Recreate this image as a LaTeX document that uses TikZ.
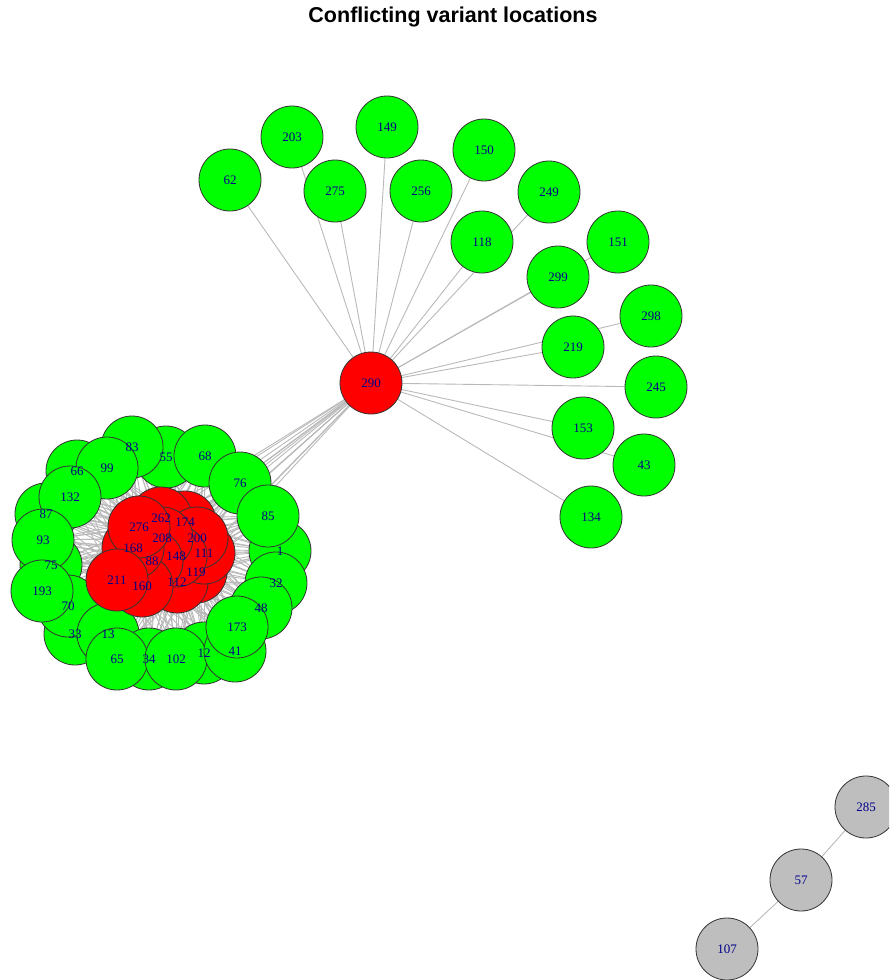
\documentclass[tikz,border=0pt]{standalone}
\usepackage{fontspec}
\setmainfont{Liberation Serif}
\newfontfamily\titlefont{Liberation Sans}
\definecolor{labelblue}{RGB}{0,0,139}
\definecolor{vgreen}{RGB}{0,255,0}
\definecolor{vred}{RGB}{255,0,0}
\definecolor{vgray}{RGB}{190,190,190}
\definecolor{edgegray}{RGB}{185,185,185}
\pgfdeclarelayer{bg}
\pgfdeclarelayer{fg}
\pgfsetlayers{bg,main,fg}
\begin{document}
\begin{tikzpicture}[x=1pt,y=-1pt,
  vtx/.style={circle,draw=black!80,line width=0.8pt,minimum size=62pt,inner sep=0pt},
  gv/.style={vtx,fill=vgreen},
  rv/.style={vtx,fill=vred},
  yv/.style={vtx,fill=vgray},
  lbl/.style={inner sep=0pt,text=labelblue,font=\fontsize{13}{13}\selectfont},
  edge/.style={draw=edgegray,line width=0.9pt}]
\useasboundingbox (0,0) rectangle (889,980);
\clip (0,0) rectangle (889,980);
\node[font=\titlefont\bfseries\fontsize{21.5}{21.5}\selectfont] (title) at (453,17) {Conflicting variant locations};
% outer green nodes
\foreach \n/\x/\y in {62/230/180, 203/292/137, 149/387/127, 275/335/191, 256/421/191,
  150/484/150, 249/549/192, 118/482/242, 151/618/242, 299/558/277, 298/651/316,
  219/573/347, 245/656/387, 153/583/428, 43/644/465, 134/591/517}
  {\node[gv] (n\n) at (\x,\y) {};
   \begin{pgfonlayer}{fg}\node[lbl] (t\n) at (n\n) {\n};\end{pgfonlayer}}
% hub
\node[rv] (n290) at (371,383) {};
\begin{pgfonlayer}{fg}\node[lbl] (t290) at (n290) {290};\end{pgfonlayer}
% cluster green nodes
\foreach \n/\x/\y in {55/166/457, 83/132/447, 66/77/471, 99/107/468, 87/46/514, 132/70/497,
  75/51/565, 93/43/540, 33/75/634, 70/68/606, 193/42/591, 13/108/634, 34/149/659,
  12/204/653, 65/117/659, 102/176/659, 41/235/651, 1/280/551, 32/276/583, 48/261/608,
  173/237/627, 68/205/456, 76/240/483, 85/268/516}
  {\node[gv] (n\n) at (\x,\y) {};
   \begin{pgfonlayer}{fg}\node[lbl] (t\n) at (n\n) {\n};\end{pgfonlayer}}
% cluster red nodes
\foreach \n/\x/\y in {119/196/572, 112/177/582, 111/204/553, 174/185/522, 262/161/518,
  200/197/538, 148/176/556, 208/162/538, 88/152/561, 160/142/586, 168/133/548,
  276/139/527, 211/117/580}
  {\node[rv] (n\n) at (\x,\y) {};
   \begin{pgfonlayer}{fg}\node[lbl] (t\n) at (n\n) {\n};\end{pgfonlayer}}
% gray component
\foreach \n/\x/\y in {285/866/807, 57/801/880, 107/727/949}
  {\node[yv] (n\n) at (\x,\y) {};
   \begin{pgfonlayer}{fg}\node[lbl] (t\n) at (n\n) {\n};\end{pgfonlayer}}
\begin{pgfonlayer}{bg}
  \foreach \g in {62,203,149,275,256,150,249,118,151,299,298,219,245,153,43,134}
    \draw[edge] (n290) -- (n\g);
  \foreach \r in {119,112,111,174,262,200,148,208,88,160,168,276,211} {
    \draw[edge] (n290) -- (n\r);
    \foreach \g in {55,83,66,99,87,132,75,93,33,70,193,13,34,12,65,102,41,1,32,48,173,68,76,85}
      \draw[edge] (n\r) -- (n\g);
  }
  \draw[edge] (n285) -- (n57);
  \draw[edge] (n57) -- (n107);
\end{pgfonlayer}
\end{tikzpicture}
\end{document}
